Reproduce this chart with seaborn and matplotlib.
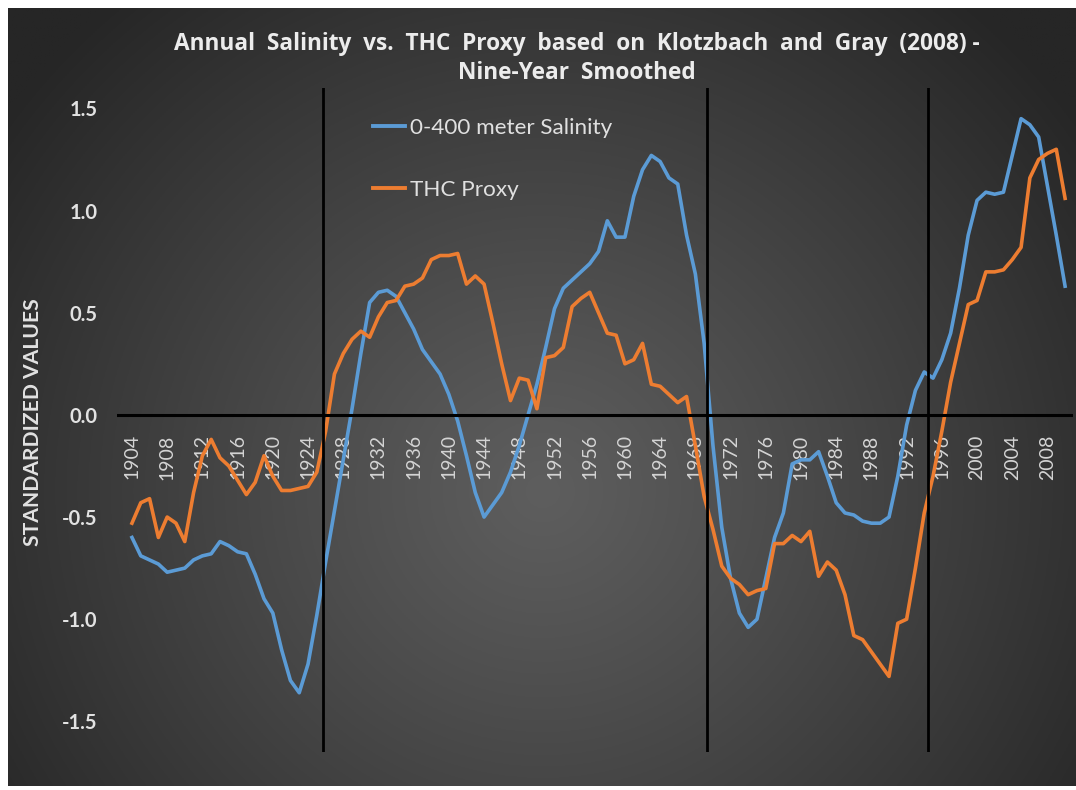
import numpy as np
import pandas as pd
import matplotlib
matplotlib.use("Agg")
import matplotlib.pyplot as plt
import seaborn as sns
from matplotlib.lines import Line2D

# ---------------- data ----------------
years = list(range(1904, 2011))

salinity = [
    -0.60, -0.69, -0.71, -0.73, -0.77, -0.76, -0.75, -0.71, -0.69, -0.68,   # 1904-1913
    -0.62, -0.64, -0.67, -0.68, -0.78, -0.90, -0.97, -1.15, -1.30, -1.36,   # 1914-1923
    -1.22, -0.98, -0.72, -0.47, -0.22, 0.03, 0.30, 0.55, 0.60, 0.61,        # 1924-1933
    0.58, 0.50, 0.42, 0.32, 0.26, 0.20, 0.10, -0.03, -0.20, -0.38,          # 1934-1943
    -0.50, -0.44, -0.38, -0.28, -0.15, 0.00, 0.15, 0.33, 0.52, 0.62,        # 1944-1953
    0.66, 0.70, 0.74, 0.80, 0.95, 0.87, 0.87, 1.07, 1.20, 1.27,             # 1954-1963
    1.24, 1.16, 1.13, 0.88, 0.69, 0.35, -0.15, -0.55, -0.80, -0.97,         # 1964-1973
    -1.04, -1.00, -0.80, -0.60, -0.48, -0.24, -0.22, -0.22, -0.18, -0.30,   # 1974-1983
    -0.43, -0.48, -0.49, -0.52, -0.53, -0.53, -0.50, -0.30, -0.05, 0.12,    # 1984-1993
    0.21, 0.18, 0.27, 0.40, 0.62, 0.88, 1.05, 1.09, 1.08, 1.09,             # 1994-2003
    1.27, 1.45, 1.42, 1.36, 1.12, 0.88, 0.63,                               # 2004-2010
]

thc_proxy = [
    -0.53, -0.43, -0.41, -0.60, -0.50, -0.53, -0.62, -0.38, -0.20, -0.12,   # 1904-1913
    -0.21, -0.25, -0.32, -0.39, -0.33, -0.20, -0.30, -0.37, -0.37, -0.36,   # 1914-1923
    -0.35, -0.28, -0.08, 0.20, 0.30, 0.37, 0.41, 0.38, 0.48, 0.55,          # 1924-1933
    0.56, 0.63, 0.64, 0.67, 0.76, 0.78, 0.78, 0.79, 0.64, 0.68,             # 1934-1943
    0.64, 0.45, 0.25, 0.07, 0.18, 0.17, 0.03, 0.28, 0.29, 0.33,             # 1944-1953
    0.53, 0.57, 0.60, 0.50, 0.40, 0.39, 0.25, 0.27, 0.35, 0.15,             # 1954-1963
    0.14, 0.10, 0.06, 0.09, -0.15, -0.40, -0.56, -0.74, -0.80, -0.83,       # 1964-1973
    -0.88, -0.86, -0.85, -0.63, -0.63, -0.59, -0.62, -0.57, -0.79, -0.72,   # 1974-1983
    -0.76, -0.88, -1.08, -1.10, -1.16, -1.22, -1.28, -1.02, -1.00, -0.75,   # 1984-1993
    -0.48, -0.30, -0.08, 0.16, 0.35, 0.54, 0.56, 0.70, 0.70, 0.71,          # 1994-2003
    0.76, 0.82, 1.16, 1.25, 1.28, 1.30, 1.06,                               # 2004-2010
]

series_names = ["0-400 meter Salinity", "THC Proxy"]
series_colors = ["#5B9BD5", "#ED7D31"]
tick_years = list(range(1904, 2009, 4))
y_ticks = [-1.5, -1.0, -0.5, 0.0, 0.5, 1.0, 1.5]
marker_years = [1925.7, 1969.3, 1994.4]

title = "Annual  Salinity  vs.  THC  Proxy  based  on  Klotzbach  and  Gray  (2008) -\nNine-Year  Smoothed"
ylabel = "STANDARDIZED VALUES"

df = pd.DataFrame({
    "year": years * 2,
    "value": salinity + thc_proxy,
    "series": [series_names[0]] * len(years) + [series_names[1]] * len(years),
})

# ---------------- figure ----------------
W, H = 1076, 790
fig = plt.figure(figsize=(W / 100, H / 100), dpi=100)
fig.patch.set_facecolor("white")

# gradient background panel
bg = fig.add_axes([8 / W, 4 / H, 1 - 8 / W, 1 - 12 / H])
bg.set_axis_off()
ny, nx = 400, 540
yy, xx = np.mgrid[0:ny, 0:nx]
cx, cy = 0.50 * nx, 0.62 * ny
d = np.sqrt(((xx - cx) / nx) ** 2 + ((yy - cy) / ny * 0.75) ** 2)
d = np.clip(d / 0.62, 0, 1)
inner = np.array([0x5e, 0x5e, 0x5e]) / 255
outer = np.array([0x26, 0x26, 0x26]) / 255
img = inner[None, None, :] * (1 - d[..., None] ** 1.1) + outer[None, None, :] * (d[..., None] ** 1.1)
bg.imshow(img, aspect="auto", extent=[0, 1, 0, 1], origin="upper")

# main axes: px 117..1073 horizontally, 88..752 vertically
ax = fig.add_axes([117 / W, 1 - 752 / H, (1073 - 117) / W, (752 - 88) / H])
ax.set_facecolor("none")

sns.lineplot(data=df, x="year", y="value", hue="series", palette=series_colors,
             linewidth=2.6, ax=ax, legend=False)

ax.set_xlim(1902.3, 2010.9)
ax.set_ylim(-1.65, 1.6)

ax.axhline(0, color="black", lw=2.2, zorder=3)
for yr in marker_years:
    ax.axvline(yr, ymin=0.0, ymax=1.0, color="black", lw=2.0, zorder=4)

for s in ["top", "right", "left", "bottom"]:
    ax.spines[s].set_visible(False)
ax.spines["bottom"].set_position(("data", 0))

ax.set_xticks(tick_years)
ax.set_xticklabels([str(y) for y in tick_years], rotation=90, fontsize=14,
                   color="#d4d4d4", family="Lato", va="top")
ax.tick_params(axis="x", length=0, pad=14)

ax.set_yticks(y_ticks)
ax.set_yticklabels([f"{v:.1f}" for v in y_ticks], fontsize=14.5, fontweight="bold",
                   color="#e2e2e2", family="Lato")
ax.tick_params(axis="y", length=0, pad=14)
ax.set_xlabel("")
ax.set_ylabel("")
ax.grid(False)

fig.text(33 / W, 1 - 422 / H, ylabel, rotation=90, ha="center", va="center",
         fontsize=15.2, fontweight="bold", color="#e2e2e2", family="Lato")

fig.text(577 / W, 1 - 58.5 / H, title, ha="center", va="center", fontsize=16.3,
         fontweight="bold", color="#ececec", family="Open Sans", linespacing=1.32)

handles = [Line2D([0], [0], color=c, lw=2.8) for c in series_colors]
leg = ax.legend(handles, series_names, loc="upper left",
                bbox_to_anchor=(373 / W, 1 - 118 / H), bbox_transform=fig.transFigure,
                frameon=False, handlelength=1.4, handletextpad=0.25,
                labelspacing=1.85, borderpad=0, borderaxespad=0,
                prop={"family": "Lato", "size": 16.2})
for t in leg.get_texts():
    t.set_color("#e0e0e0")

fig.savefig("out.png", dpi=100, facecolor=fig.get_facecolor())
